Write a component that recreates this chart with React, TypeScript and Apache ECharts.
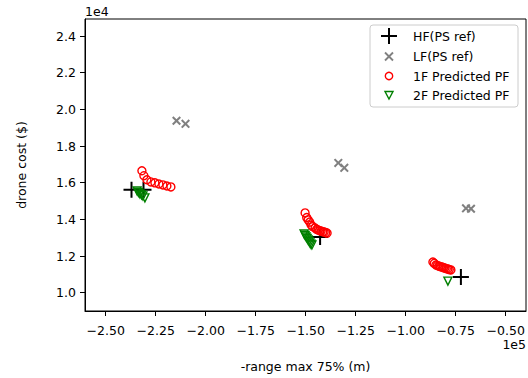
import React, { useEffect, useRef } from "react";
import * as echarts from "echarts";

// HF (PS ref) — black plus
const hfX = [-237100, -231100, -142800, -72400];
const hfY = [15610, 15610, 13040, 10850];
// LF (PS ref) — gray x
const lfX = [-214600, -210100, -133700, -130700, -69850, -67350];
const lfY = [19380, 19210, 17080, 16810, 14600, 14580];
// 1F Predicted PF — red open circles
const f1X = [
  -231900, -230900, -229400, -227400, -225400, -223400, -221400, -219400, -217400,
  -150300, -149500, -148800, -148000, -147300, -146500, -145300, -144500, -143800, -143000,
  -142300, -141500, -140800, -140000, -139300,
  -86400, -85700, -84900, -84200, -83400, -82700, -81900, -81200, -80400, -79700, -78900, -78200, -77400,
];
const f1Y = [
  16650, 16380, 16160, 16040, 15990, 15930, 15880, 15820, 15770,
  14350, 14100, 13970, 13850, 13690, 13600, 13530, 13450, 13420, 13380,
  13360, 13330, 13310, 13280, 13250,
  11670, 11600, 11510, 11480, 11450, 11420, 11400, 11370, 11340, 11310, 11290, 11260, 11240,
];
// 2F Predicted PF — green open down-triangles
const f2X = [
  -234300, -233600, -232900, -232100, -231400, -230400,
  -150800, -150300, -149800, -149300, -148800, -148300, -147900, -147400, -146900,
  -78900,
];
const f2Y = [
  15550, 15470, 15390, 15330, 15280, 15170,
  13200, 13120, 13040, 12960, 12870, 12790, 12710, 12650, 12600,
  10630,
];

const xTicks = [-250000, -225000, -200000, -175000, -150000, -125000, -100000, -75000, -50000];
const yTicks = [10000, 12000, 14000, 16000, 18000, 20000, 22000, 24000];
const seriesNames = ["HF(PS ref)", "LF(PS ref)", "1F Predicted PF", "2F Predicted PF"];

const PLUS = "path://M7,0H9V7H16V9H9V16H7V9H0V7H7Z";
const CROSS = "path://M0,1.6L1.6,0L5,3.4L8.4,0L10,1.6L6.6,5L10,8.4L8.4,10L5,6.6L1.6,10L0,8.4L3.4,5Z";
const TRI_DOWN = "path://M0,0L10,0L5,9.5Z";

const FONT = "DejaVu Sans";
const FS = 12.5;

function pairs(xs: number[], ys: number[]) {
  return xs.map((x, i) => [x, ys[i]]);
}

export default function App() {
  const ref = useRef<HTMLDivElement>(null);
  useEffect(() => {
    if (!ref.current) return;
    const chart = echarts.init(ref.current, null, { renderer: "svg" });
    const minus = (s: string) => s.replace("-", "\u2212");
    const mx = 389;
    const rowY = [36, 56.5, 76, 95];
    const legendTexts = seriesNames.map((name, i) => ({
      type: "text",
      x: 413,
      y: rowY[i],
      z: 11,
      style: { text: name, fontFamily: FONT, fontSize: FS, fill: "#000", verticalAlign: "middle", align: "left" },
    }));
    chart.setOption({
      animation: false,
      backgroundColor: "#fff",
      grid: { left: 85, right: 2, top: 19, bottom: 67, show: true, borderColor: "#000", borderWidth: 1 },
      xAxis: {
        type: "value",
        min: -260350,
        max: -39850,
        name: "-range max 75% (m)",
        nameLocation: "middle",
        nameGap: 49,
        nameTextStyle: { fontFamily: FONT, fontSize: FS, color: "#000" },
        axisLine: { show: true, onZero: false, lineStyle: { color: "#000", width: 1 } },
        axisTick: { show: true, length: 5, lineStyle: { color: "#000" }, customValues: xTicks },
        axisLabel: {
          fontFamily: FONT,
          fontSize: FS,
          color: "#000",
          margin: 13,
          customValues: xTicks,
          formatter: (v: number) => minus((v / 1e5).toFixed(2)),
        },
        splitLine: { show: false },
      },
      yAxis: {
        type: "value",
        min: 9000,
        max: 24930,
        name: "drone cost ($)",
        nameLocation: "middle",
        nameGap: 57,
        nameTextStyle: { fontFamily: FONT, fontSize: FS, color: "#000" },
        axisLine: { show: true, onZero: false, lineStyle: { color: "#000", width: 1 } },
        axisTick: { show: true, length: 5, lineStyle: { color: "#000" }, customValues: yTicks },
        axisLabel: {
          fontFamily: FONT,
          fontSize: FS,
          color: "#000",
          margin: 9,
          customValues: yTicks,
          formatter: (v: number) => (v / 1e4).toFixed(1),
        },
        splitLine: { show: false },
      },
      graphic: [
        {
          type: "rect",
          shape: { x: 370, y: 25, width: 148, height: 82, r: 3 },
          style: { fill: "rgba(255,255,255,0.8)", stroke: "#cccccc", lineWidth: 1 },
          z: 10,
        },
        // legend markers
        { type: "line", z: 11, shape: { x1: mx - 8, y1: rowY[0], x2: mx + 8, y2: rowY[0] }, style: { stroke: "#000", lineWidth: 2 } },
        { type: "line", z: 11, shape: { x1: mx, y1: rowY[0] - 8, x2: mx, y2: rowY[0] + 8 }, style: { stroke: "#000", lineWidth: 2 } },
        { type: "line", z: 11, shape: { x1: mx - 4, y1: rowY[1] - 4, x2: mx + 4, y2: rowY[1] + 4 }, style: { stroke: "#808080", lineWidth: 1.8 } },
        { type: "line", z: 11, shape: { x1: mx - 4, y1: rowY[1] + 4, x2: mx + 4, y2: rowY[1] - 4 }, style: { stroke: "#808080", lineWidth: 1.8 } },
        { type: "circle", z: 11, shape: { cx: mx, cy: rowY[2], r: 3.7 }, style: { fill: "none", stroke: "#ff0000", lineWidth: 1.4 } },
        {
          type: "polygon",
          z: 11,
          shape: { points: [[mx - 4, rowY[3] - 3.5], [mx + 4, rowY[3] - 3.5], [mx, rowY[3] + 4]] },
          style: { fill: "none", stroke: "#008000", lineWidth: 1.4 },
        },
        ...legendTexts,
        {
          type: "text",
          x: 85,
          y: 5,
          style: { text: "1e4", fontFamily: FONT, fontSize: FS, fill: "#000" },
        },
        {
          type: "text",
          x: 526,
          y: 338,
          style: { text: "1e5", fontFamily: FONT, fontSize: FS, fill: "#000", align: "right" },
        },
      ],
      series: [
        {
          name: seriesNames[0],
          type: "scatter",
          data: pairs(hfX, hfY),
          symbol: PLUS,
          symbolSize: 16,
          itemStyle: { color: "#000", opacity: 1 },
          z: 2,
        },
        {
          name: seriesNames[1],
          type: "scatter",
          data: pairs(lfX, lfY),
          symbol: CROSS,
          symbolSize: 9,
          itemStyle: { color: "#808080", opacity: 1 },
          z: 3,
        },
        {
          name: seriesNames[2],
          type: "scatter",
          data: pairs(f1X, f1Y),
          symbol: "circle",
          symbolSize: 8,
          itemStyle: { color: "rgba(0,0,0,0)", borderColor: "#ff0000", borderWidth: 1.4, opacity: 1 },
          z: 4,
        },
        {
          name: seriesNames[3],
          type: "scatter",
          data: pairs(f2X, f2Y),
          symbol: TRI_DOWN,
          symbolSize: 8,
          itemStyle: { color: "rgba(0,0,0,0)", borderColor: "#008000", borderWidth: 1.4, opacity: 1 },
          z: 5,
        },
      ],
    });
    return () => chart.dispose();
  }, []);
  return (
    <div
      ref={ref}
      style={{ position: "fixed", left: 0, top: 0, width: 528, height: 378, background: "#fff" }}
    />
  );
}
